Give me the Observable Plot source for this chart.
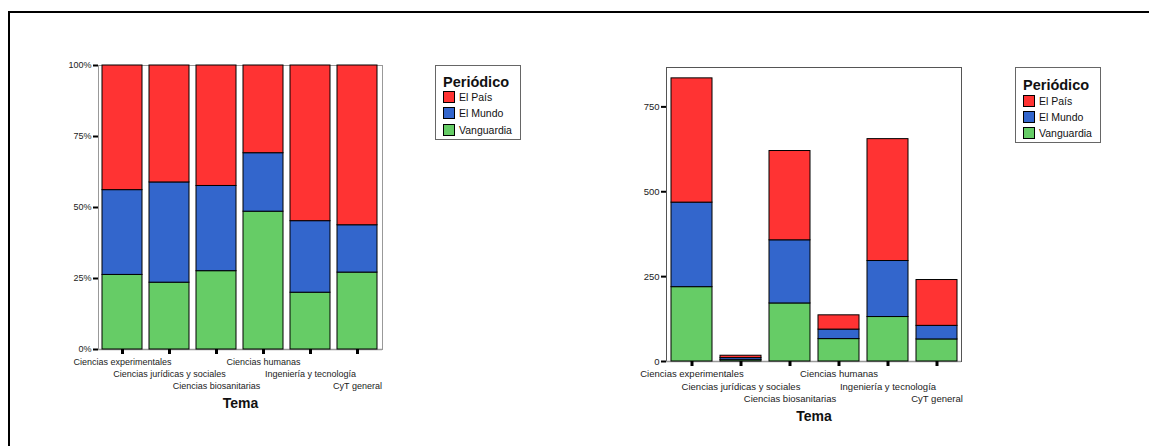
<!DOCTYPE html>
<html><head><meta charset="utf-8">
<script src="https://cdn.jsdelivr.net/npm/d3@7"></script>
<script src="https://cdn.jsdelivr.net/npm/@observablehq/plot@0.6"></script>
<style>
body{margin:0;background:#fff;font-family:"Liberation Sans",Arial,sans-serif;}
#wrap{position:relative;width:1149px;height:446px;overflow:hidden;background:#fff;}
.frameTop{position:absolute;left:8px;top:11px;width:1141px;height:2px;background:#000;z-index:5;}
.frameLeft{position:absolute;left:8px;top:11px;width:2px;height:435px;background:#000;z-index:5;}
.chart{position:absolute;top:0;}
.legend{position:absolute;border:1px solid #666;background:#fff;box-sizing:border-box;z-index:4;}
.legend .ttl{position:absolute;left:7px;font-weight:bold;font-size:14.5px;color:#111;line-height:1;}
.legend .it{position:absolute;left:7px;height:13px;display:flex;align-items:center;font-size:10.5px;color:#111;}
.legend .sw{width:12px;height:12px;border:1px solid #000;box-sizing:border-box;margin-right:4px;}
</style>
</head><body>
<div id="wrap">
  <div class="frameTop"></div>
  <div class="frameLeft"></div>
</div>
<script>
const categories = ["Ciencias experimentales","Ciencias jurídicas y sociales","Ciencias biosanitarias","Ciencias humanas","Ingeniería y tecnología","CyT general"];
const labelRow = [0,1,2,0,1,2];
const series = ["El País","El Mundo","Vanguardia"];
const colors = ["#FF3333","#3366CC","#66CC66"];
const vanguardia = [219, 4, 171, 66, 131, 65];
const elMundo    = [249, 6, 186, 28, 165, 40];
const elPais     = [366, 7, 263, 42, 359, 135];
const pctTicks = [0, 0.25, 0.5, 0.75, 1];
const countTicks = [0, 250, 500, 750];
const legendTitle = "Periódico";
const xLabel = "Tema";

const data = [];
categories.forEach((c, i) => {
  data.push({tema: c, periodico: "Vanguardia", n: vanguardia[i]});
  data.push({tema: c, periodico: "El Mundo", n: elMundo[i]});
  data.push({tema: c, periodico: "El País", n: elPais[i]});
});

function chart(o) {
  return Plot.plot({
    width: o.width, height: o.height,
    marginLeft: o.ml, marginRight: o.mr, marginTop: o.mt, marginBottom: o.mb,
    style: {background: "transparent", fontFamily: "'Liberation Sans', Arial, sans-serif", overflow: "visible"},
    x: {domain: categories, paddingInner: o.pi, paddingOuter: o.po, axis: null},
    y: {domain: o.yDomain, axis: null},
    color: {domain: series, range: colors},
    marks: [
      Plot.frame({stroke: o.frameStroke}),
      Plot.ruleY([0], {stroke: "#999", strokeWidth: 1.5}),
      Plot.barY(data, {x: "tema", y: "n", fill: "periodico", stroke: "black", strokeWidth: 1, offset: o.normalize ? "normalize" : null}),
      Plot.axisY({ticks: o.yTicks, tickFormat: o.yFormat, tickSize: 5, tickPadding: 2, strokeWidth: 2, stroke: "black", fill: "#222", fontSize: o.fs, label: null}),
      Plot.axisX({tickSize: 5, strokeWidth: 3, stroke: "black", fill: "none", label: null}),
      ...[0, 1, 2].map(r => Plot.text(categories.filter((c, i) => labelRow[i] === r), {x: d => d, frameAnchor: "bottom", dy: o.rowDy[r], fontSize: o.fs, fill: "#222", style: "word-spacing:1px"})),
      Plot.text([xLabel], {frameAnchor: "bottom", dy: o.temaDy, fontSize: 14, fontWeight: "bold", fill: "#111"})
    ]
  });
}

const wrap = document.getElementById("wrap");

const left = chart({width: 400, height: 430, ml: 98, mr: 18, mt: 65, mb: 81,
  yDomain: [0, 1], yTicks: pctTicks, yFormat: d3.format(".0%"), normalize: true,
  pi: 0.145, po: 0.0725, fs: 9, rowDy: [15, 27, 39], temaDy: 58, frameStroke: "#999"});
left.classList.add("chart"); left.style.left = "0px"; left.style.position = "absolute"; left.style.top = "0px";
wrap.appendChild(left);

const right = chart({width: 440, height: 446, ml: 106, mr: 39, mt: 67, mb: 85,
  yDomain: [0, 866], yTicks: countTicks, yFormat: d => String(d), normalize: false,
  pi: 0.166, po: 0.083, fs: 9.5, rowDy: [15, 28, 40.5], temaDy: 59.5, frameStroke: "#555"});
right.classList.add("chart"); right.style.left = "560px"; right.style.position = "absolute"; right.style.top = "0px";
wrap.appendChild(right);

function legend(x, y, w, h, titleY, itemYs) {
  const box = document.createElement("div");
  box.className = "legend";
  Object.assign(box.style, {left: x + "px", top: y + "px", width: w + "px", height: h + "px"});
  const t = document.createElement("div");
  t.className = "ttl"; t.textContent = legendTitle; t.style.top = (titleY - y - 8) + "px";
  box.appendChild(t);
  series.forEach((s, i) => {
    const it = document.createElement("div");
    it.className = "it"; it.style.top = (itemYs[i] - y - 7) + "px";
    const sw = document.createElement("div");
    sw.className = "sw"; sw.style.background = colors[i];
    const tx = document.createElement("span"); tx.textContent = s;
    it.appendChild(sw); it.appendChild(tx);
    box.appendChild(it);
  });
  wrap.appendChild(box);
}
legend(435, 65, 86, 75, 82, [96, 112.5, 129]);
legend(1015, 67, 86, 76, 85, [100, 116, 132]);
</script>
</body></html>
